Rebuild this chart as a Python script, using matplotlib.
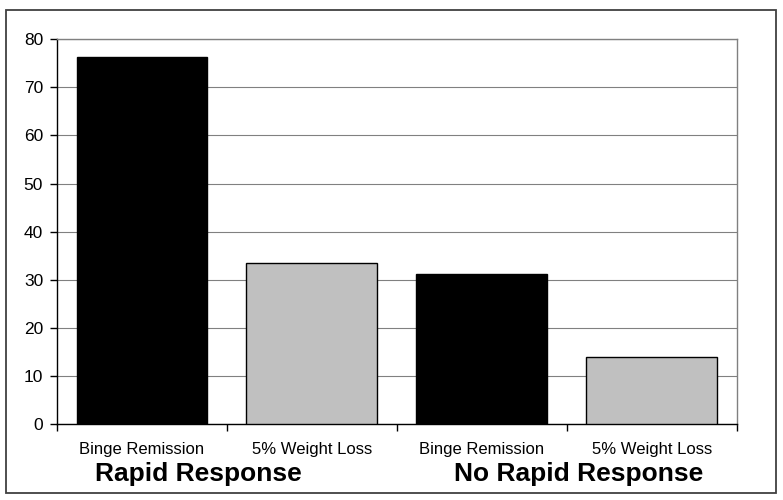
import matplotlib
matplotlib.use("Agg")
import matplotlib.pyplot as plt
from matplotlib.patches import Rectangle

# percent of patients, by outcome and response group
categories = ['Binge Remission', '5% Weight Loss', 'Binge Remission', '5% Weight Loss']
values = [76.4, 33.4, 31.1, 13.9]
bar_colors = ['black', '#c0c0c0', 'black', '#c0c0c0']
groups = ['Rapid Response', 'No Rapid Response']
yticks = list(range(0, 90, 10))

plt.rcParams['font.family'] = ['Liberation Sans', 'DejaVu Sans']

fig = plt.figure(figsize=(7.83, 5.0), dpi=100)
ax = fig.add_axes([0.0728, 0.152, 0.868, 0.7694])

x = list(range(len(categories)))
ax.bar(x, values, width=0.77, color=bar_colors, edgecolor='black', linewidth=1.0, zorder=3)

ax.set_xlim(-0.5, len(categories) - 0.5)
ax.set_ylim(0, 80)
ax.set_yticks(yticks)
ax.set_yticklabels([str(t) for t in yticks], fontsize=12.5)
ax.yaxis.grid(True, color='#808080', linewidth=0.8, zorder=0)

# category labels centred, tick marks between categories
ax.set_xticks(x)
ax.set_xticklabels(categories, fontsize=12)
ax.tick_params(axis='x', length=0, pad=13)
ax.set_xticks([i - 0.5 for i in range(len(categories) + 1)], minor=True)
ax.tick_params(axis='x', which='minor', length=5, width=1, color='black', direction='out')
ax.tick_params(axis='y', length=5, width=1, pad=5, direction='out')

ax.spines['left'].set_color('black')
ax.spines['bottom'].set_color('black')
ax.spines['top'].set_color('#808080')
ax.spines['right'].set_color('#808080')
for s in ax.spines.values():
    s.set_linewidth(1.0)

fig.text(0.2529, 0.052, groups[0], fontsize=19, weight='bold', ha='center', va='center')
fig.text(0.7395, 0.052, groups[1], fontsize=19, weight='bold', ha='center', va='center')

# outer frame of the chart
fig.patches.append(Rectangle((0.0077, 0.014), 0.983, 0.966, transform=fig.transFigure,
                             fill=False, edgecolor='#404040', linewidth=1.3))

fig.savefig('out.png', dpi=100)
